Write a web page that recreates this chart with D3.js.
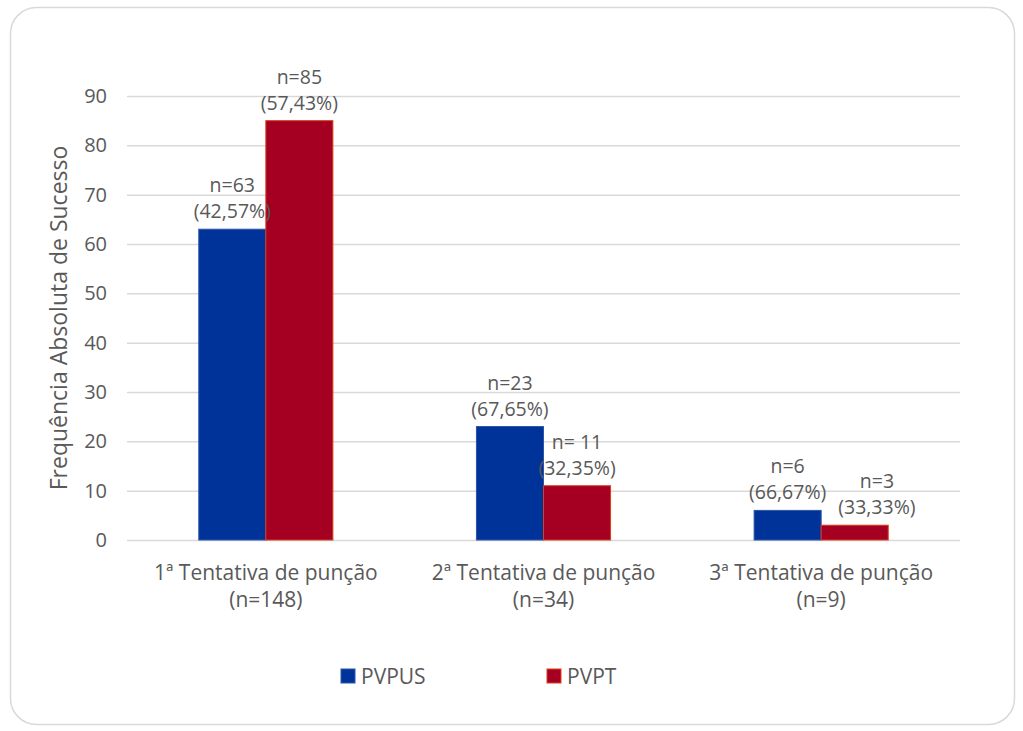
<!DOCTYPE html>
<html>
<head>
<meta charset="utf-8">
<script src="https://cdn.jsdelivr.net/npm/d3@7"></script>
<style>
  body { margin: 0; background: #fff; }
  text { font-family: "Open Sans", sans-serif; fill: #595959; }
</style>
</head>
<body>
<div id="chart"></div>
<script>
// data
var categories = ["1ª Tentativa de punção", "2ª Tentativa de punção", "3ª Tentativa de punção"];
var categoryTotals = ["(n=148)", "(n=34)", "(n=9)"];
var seriesNames = ["PVPUS", "PVPT"];
var pvpus = [63, 23, 6];
var pvpt = [85, 11, 3];
var pvpusLabels = [["n=63", "(42,57%)"], ["n=23", "(67,65%)"], ["n=6", "(66,67%)"]];
var pvptLabels = [["n=85", "(57,43%)"], ["n= 11", "(32,35%)"], ["n=3", "(33,33%)"]];
var yTicks = [0, 10, 20, 30, 40, 50, 60, 70, 80, 90];

var W = 1023, H = 731;
var margin = {top: 96, right: 63, bottom: 191, left: 127},
    width = W - margin.left - margin.right,
    height = H - margin.top - margin.bottom;

var colors = {PVPUS: "#003399", PVPT: "#a50021"};
var strokes = {PVPUS: "#2e54a8", PVPT: "#d9401c"};

var svg = d3.select("#chart").append("svg")
    .attr("width", W)
    .attr("height", H);

// card frame
svg.append("rect")
    .attr("x", 10.5).attr("y", 7.5)
    .attr("width", 1004).attr("height", 717)
    .attr("rx", 26).attr("ry", 26)
    .attr("fill", "#fff")
    .attr("stroke", "#d9d9d9")
    .attr("stroke-width", 1.5);

var g = svg.append("g")
    .attr("transform", "translate(" + margin.left + "," + margin.top + ")");

var x = d3.scaleBand()
    .domain(categories)
    .range([0, width])
    .paddingInner(0.517)
    .paddingOuter(0.2585);

var x1 = d3.scaleBand()
    .domain(seriesNames)
    .range([0, x.bandwidth()]);

var y = d3.scaleLinear()
    .domain([0, 90])
    .range([height, 0]);

// gridlines
g.append("g")
  .selectAll("line")
  .data(yTicks)
  .enter().append("line")
    .attr("x1", 0).attr("x2", width)
    .attr("y1", function(d) { return y(d) + 0.5; })
    .attr("y2", function(d) { return y(d) + 0.5; })
    .attr("stroke", "#d9d9d9")
    .attr("stroke-width", 1.5);

// y axis
var yAxis = g.append("g")
    .call(d3.axisLeft(y).tickValues(yTicks).tickSize(0).tickPadding(20));
yAxis.select(".domain").remove();
yAxis.selectAll("text")
    .attr("font-size", "20px")
    .attr("font-family", "Open Sans, sans-serif")
    .attr("fill", "#595959");

// x axis labels (two lines)
var xAxis = g.append("g")
    .attr("transform", "translate(0," + height + ")")
    .call(d3.axisBottom(x).tickSize(0).tickPadding(0));
xAxis.select(".domain").remove();
xAxis.selectAll("text").remove();
xAxis.selectAll(".tick").each(function(d, i) {
  var t = d3.select(this).append("text")
      .attr("text-anchor", "middle")
      .attr("font-size", "21px")
      .attr("fill", "#595959");
  t.append("tspan").attr("x", 0).attr("y", 40).text(d);
  t.append("tspan").attr("x", 0).attr("y", 67).text(categoryTotals[i]);
});

// bars
var rows = categories.map(function(c, i) {
  return [
    {cat: c, key: "PVPUS", value: pvpus[i], label: pvpusLabels[i]},
    {cat: c, key: "PVPT", value: pvpt[i], label: pvptLabels[i]}
  ];
});

var groups = g.append("g")
  .selectAll("g")
  .data(rows)
  .enter().append("g")
    .attr("transform", function(d) { return "translate(" + x(d[0].cat) + ",0)"; });

groups.selectAll("rect")
  .data(function(d) { return d; })
  .enter().append("rect")
    .attr("x", function(d) { return x1(d.key); })
    .attr("y", function(d) { return y(d.value); })
    .attr("width", x1.bandwidth())
    .attr("height", function(d) { return y(0) - y(d.value); })
    .attr("fill", function(d) { return colors[d.key]; })
    .attr("stroke", function(d) { return strokes[d.key]; })
    .attr("stroke-width", 1);

// data labels
groups.each(function() {
  var labels = d3.select(this).selectAll("text.lbl")
    .data(function(d) { return d; })
    .enter().append("text")
      .attr("class", "lbl")
      .attr("text-anchor", "middle")
      .attr("font-size", "19.5px")
      .attr("fill", "#595959")
      .each(function(d) {
        var cx = x1(d.key) + x1.bandwidth() / 2;
        var top = y(d.value);
        d3.select(this).append("tspan").attr("x", cx).attr("y", top - 37).text(d.label[0]);
        d3.select(this).append("tspan").attr("x", cx).attr("y", top - 11).text(d.label[1]);
      });
  // push the second label right when it collides with the first
  var nodes = labels.nodes();
  var a = nodes[0].getBBox(), b = nodes[1].getBBox();
  var vOverlap = a.y < b.y + b.height - 8 && b.y < a.y + a.height - 8;
  if (vOverlap && b.x < a.x + a.width + 12) {
    d3.select(nodes[1]).attr("transform", "translate(" + (a.x + a.width + 12 - b.x) + ",0)");
  }
});

// y axis title
svg.append("text")
    .attr("transform", "translate(67," + (margin.top + height / 2) + ") rotate(-90)")
    .attr("text-anchor", "middle")
    .attr("font-size", "23px")
    .attr("fill", "#595959")
    .text("Frequência Absoluta de Sucesso");

// legend
var legend = svg.append("g")
    .attr("transform", "translate(341,669)");

legend.selectAll("g")
  .data(seriesNames)
  .enter().append("g")
    .attr("transform", function(d, i) { return "translate(" + (i * 206) + ",0)"; })
    .call(function(l) {
      l.append("rect")
        .attr("width", 14)
        .attr("height", 14)
        .attr("fill", function(d) { return colors[d]; })
        .attr("stroke", function(d) { return strokes[d]; });
      l.append("text")
        .attr("x", 20)
        .attr("y", 14.5)
        .attr("font-size", "21px")
        .attr("fill", "#595959")
        .text(function(d) { return d; });
    });
</script>
</body>
</html>
